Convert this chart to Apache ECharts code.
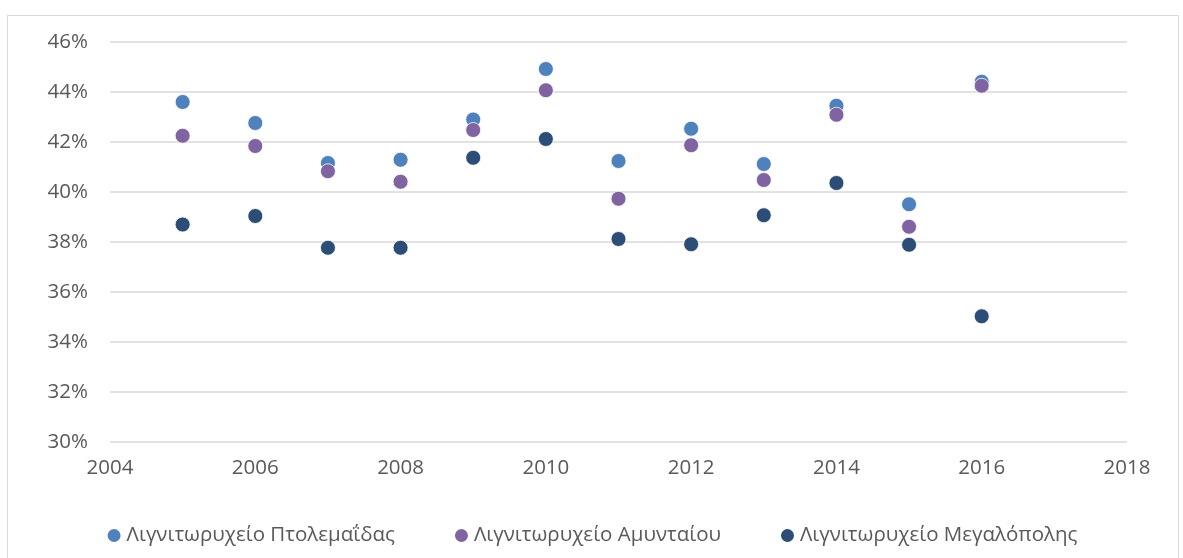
<!DOCTYPE html>
<html>
<head>
<meta charset="utf-8">
<script src="https://cdn.jsdelivr.net/npm/echarts@6/dist/echarts.min.js"></script>
<style>
  html, body { margin: 0; padding: 0; background: #ffffff; }
  .wrap { position: relative; width: 1183px; height: 558px; overflow: hidden; }
  .frame { position: absolute; left: 7px; top: 15px; width: 1170px; height: 600px; border: 1px solid #d9d9d9; }
  #chart { position: absolute; left: 0; top: 0; width: 1183px; height: 558px; }
</style>
</head>
<body>
<div class="wrap">
  <div class="frame"></div>
  <div id="chart"></div>
</div>
<script>
// years and efficiency values (%)
var years = [2005, 2006, 2007, 2008, 2009, 2010, 2011, 2012, 2013, 2014, 2015, 2016];
var ptolemaida = [43.6, 42.76, 41.16, 41.29, 42.9, 44.92, 41.24, 42.53, 41.12, 43.45, 39.51, 44.41];
var amyntaio = [42.25, 41.84, 40.83, 40.41, 42.48, 44.07, 39.73, 41.87, 40.48, 43.09, 38.61, 44.25];
var megalopoli = [38.7, 39.04, 37.77, 37.77, 41.37, 42.12, 38.12, 37.91, 39.07, 40.36, 37.89, 35.03];

var names = ["Λιγνιτωρυχείο Πτολεμαΐδας", "Λιγνιτωρυχείο Αμυνταίου", "Λιγνιτωρυχείο Μεγαλόπολης"];
var colors = ["#4f81bd", "#8064a2", "#2c4d75"];

function pairs(vals) {
  return years.map(function (y, i) { return [y, vals[i]]; });
}

var chart = echarts.init(document.getElementById("chart"));
var font = "'Open Sans', 'Noto Sans', sans-serif";

chart.setOption({
  animation: false,
  color: colors,
  textStyle: { fontFamily: font },
  grid: { left: 110, right: 56, top: 42, bottom: 116 },
  legend: {
    bottom: 7,
    left: "center",
    itemGap: 58,
    itemWidth: 15,
    itemHeight: 15,
    icon: "circle",
    textStyle: { fontSize: 20.5, color: "#595959", fontFamily: font },
    data: names
  },
  xAxis: {
    type: "value",
    min: 2004,
    max: 2018,
    interval: 2,
    axisLine: { show: false },
    axisTick: { show: false },
    splitLine: { show: false },
    axisLabel: {
      color: "#595959", fontSize: 20.5, margin: 16, fontFamily: font,
      formatter: function (v) { return String(v); }
    }
  },
  yAxis: {
    type: "value",
    min: 30,
    max: 46,
    interval: 2,
    axisLine: { show: false },
    axisTick: { show: false },
    splitLine: { lineStyle: { color: "#d9d9d9", width: 1.5 } },
    axisLabel: { color: "#595959", fontSize: 20.5, margin: 22, fontFamily: font, formatter: "{value}%" }
  },
  series: [
    { name: names[0], type: "scatter", symbolSize: 15, data: pairs(ptolemaida),
      itemStyle: { color: colors[0], opacity: 1, borderColor: "#ffffff", borderWidth: 0.8 } },
    { name: names[1], type: "scatter", symbolSize: 15, data: pairs(amyntaio),
      itemStyle: { color: colors[1], opacity: 1, borderColor: "#ffffff", borderWidth: 0.8 } },
    { name: names[2], type: "scatter", symbolSize: 15, data: pairs(megalopoli),
      itemStyle: { color: colors[2], opacity: 1, borderColor: "#ffffff", borderWidth: 0.8 } }
  ]
});
</script>
</body>
</html>
